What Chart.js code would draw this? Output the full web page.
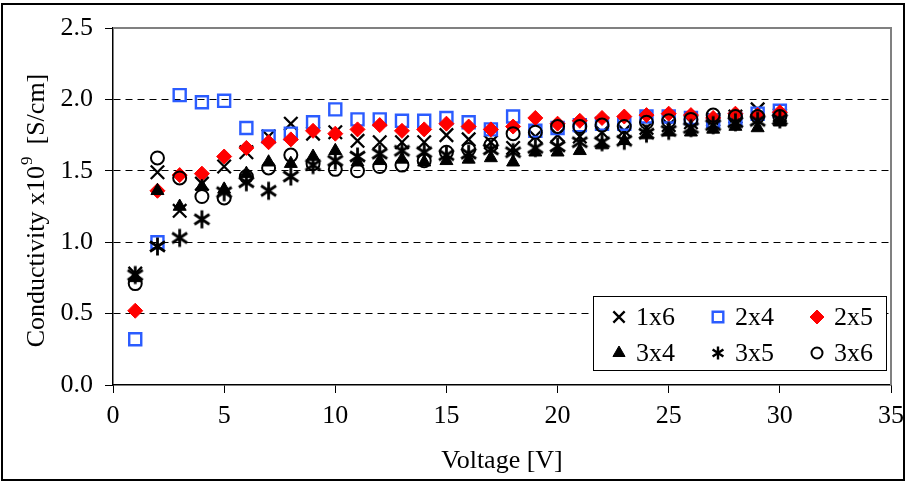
<!DOCTYPE html>
<html>
<head>
<meta charset="utf-8">
<script src="https://cdn.jsdelivr.net/npm/chart.js@4.4.1/dist/chart.umd.min.js"></script>
<style>
  html, body { margin: 0; padding: 0; background: #fff; }
  canvas { display: block; }
</style>
</head>
<body>
<canvas id="c" width="906" height="483"></canvas>
<script>
// Applied voltage [V]
const voltage = [1, 2, 3, 4, 5, 6, 7, 8, 9, 10, 11, 12, 13, 14, 15,
                 16, 17, 18, 19, 20, 21, 22, 23, 24, 25, 26, 27, 28, 29, 30];

// Conductivity x10^9 [S/cm] for each electrode layout
const cond1x6 = [0.78, 1.49, 1.22, 1.41, 1.53, 1.63, 1.74, 1.83, 1.76, 1.77, 1.71, 1.70, 1.70, 1.70, 1.75,
                 1.72, 1.70, 1.66, 1.74, 1.75, 1.74, 1.77, 1.78, 1.80, 1.82, 1.84, 1.86, 1.88, 1.93, 1.89];
const cond2x4 = [0.32, 1.00, 2.03, 1.98, 1.99, 1.80, 1.74, 1.76, 1.84, 1.93, 1.86, 1.86, 1.85, 1.85, 1.87,
                 1.84, 1.79, 1.88, 1.78, 1.80, 1.82, 1.83, 1.83, 1.88, 1.88, 1.87, 1.85, 1.86, 1.90, 1.92];
const cond2x5 = [0.52, 1.36, 1.47, 1.48, 1.60, 1.66, 1.70, 1.72, 1.78, 1.76, 1.79, 1.82, 1.78, 1.79, 1.83,
                 1.81, 1.79, 1.81, 1.87, 1.83, 1.85, 1.87, 1.88, 1.89, 1.90, 1.89, 1.87, 1.90, 1.89, 1.91];
const cond3x4 = [0.75, 1.36, 1.25, 1.39, 1.37, 1.48, 1.56, 1.55, 1.60, 1.64, 1.56, 1.57, 1.58, 1.56, 1.57,
                 1.58, 1.59, 1.56, 1.63, 1.63, 1.64, 1.68, 1.71, 1.75, 1.77, 1.77, 1.79, 1.81, 1.80, 1.84];
const cond3x5 = [0.77, 0.97, 1.03, 1.16, 1.35, 1.42, 1.36, 1.46, 1.54, 1.57, 1.60, 1.62, 1.64, 1.63, 1.61,
                 1.62, 1.65, 1.63, 1.66, 1.67, 1.70, 1.70, 1.71, 1.76, 1.78, 1.80, 1.82, 1.84, 1.85, 1.86];
const cond3x6 = [0.71, 1.59, 1.45, 1.32, 1.31, 1.46, 1.52, 1.61, 1.55, 1.51, 1.50, 1.53, 1.54, 1.57, 1.63,
                 1.65, 1.68, 1.76, 1.77, 1.81, 1.81, 1.82, 1.81, 1.84, 1.85, 1.86, 1.89, 1.88, 1.88, 1.88];

const seriesLabels = ['1x6', '2x4', '2x5', '3x4', '3x5', '3x6'];
const seriesValues = [cond1x6, cond2x4, cond2x5, cond3x4, cond3x5, cond3x6];

const xTicksMin = 0, xTicksMax = 35, xTicksStep = 5;
const yTicksMin = 0, yTicksMax = 2.5, yTicksStep = 0.5;

const xTitle = 'Voltage [V]';
const yTitleMain = 'Conductivity x10';
const yTitleSup = '9';
const yTitleUnit = '  [S/cm]';

const SERIF = '"Liberation Serif", "Times New Roman", serif';

// Six-armed asterisk marker
function makeAsterisk(size, lw) {
  const cv = document.createElement('canvas');
  cv.width = size; cv.height = size;
  const g = cv.getContext('2d');
  const c = size / 2, r = size / 2 - 1.5;
  g.strokeStyle = '#000';
  g.lineWidth = lw;
  g.lineCap = 'butt';
  g.beginPath();
  g.moveTo(c, c - r); g.lineTo(c, c + r);
  const a = Math.PI / 3.2;
  g.moveTo(c - r * Math.sin(a), c - r * Math.cos(a)); g.lineTo(c + r * Math.sin(a), c + r * Math.cos(a));
  g.moveTo(c + r * Math.sin(a), c - r * Math.cos(a)); g.lineTo(c - r * Math.sin(a), c + r * Math.cos(a));
  g.stroke();
  return cv;
}
const asteriskBig = makeAsterisk(21, 2.8);
const asteriskSmall = makeAsterisk(16, 2.4);

const styles = [
  { pointStyle: 'crossRot', radius: 9.5, legendRadius: 8, bg: '#000', border: '#000', bw: 2.3 },
  { pointStyle: 'rect', radius: 8.5, legendRadius: 7.5, bg: 'rgba(0,0,0,0)', border: '#2b5cff', bw: 2.4 },
  { pointStyle: 'rectRot', radius: 7.5, legendRadius: 7, bg: '#ff0000', border: '#ff0000', bw: 1 },
  { pointStyle: 'triangle', radius: 7.5, legendRadius: 7, bg: '#000', border: '#000', bw: 1 },
  { pointStyle: asteriskBig, legendStyle: asteriskSmall, radius: 8, legendRadius: 7, bg: '#000', border: '#000', bw: 1 },
  { pointStyle: 'circle', radius: 6.5, legendRadius: 5.5, bg: 'rgba(0,0,0,0)', border: '#000', bw: 2 }
];

const datasets = seriesLabels.map((label, i) => ({
  label,
  data: voltage.map((v, k) => ({ x: v, y: seriesValues[i][k] })),
  pointStyle: styles[i].pointStyle,
  pointRadius: styles[i].radius,
  pointHoverRadius: styles[i].radius,
  backgroundColor: styles[i].bg,
  borderColor: styles[i].border,
  pointBorderWidth: styles[i].bw,
  showLine: false,
  order: seriesLabels.length - i
}));

const framePlugin = {
  id: 'frame',
  beforeDraw(chart) {
    const ctx = chart.ctx;
    ctx.save();
    ctx.fillStyle = '#fff';
    ctx.fillRect(0, 0, chart.width, chart.height);
    ctx.strokeStyle = '#000';
    ctx.lineWidth = 2;
    ctx.strokeRect(2, 4, chart.width - 4, chart.height - 7);
    ctx.restore();
  },
  beforeDatasetsDraw(chart) {
    const { ctx, chartArea: a } = chart;
    ctx.save();
    ctx.strokeStyle = '#808080';
    ctx.lineWidth = 2;
    ctx.beginPath();
    ctx.moveTo(a.left, a.top);
    ctx.lineTo(a.right, a.top);
    ctx.lineTo(a.right, a.bottom);
    ctx.stroke();
    ctx.restore();
  },
  afterDraw(chart) {
    const { ctx, chartArea: a } = chart;
    // Rotated y-axis title with superscript exponent
    ctx.save();
    ctx.fillStyle = '#000';
    const big = '26px ' + SERIF, small = '17px ' + SERIF;
    ctx.font = big;
    const w1 = ctx.measureText(yTitleMain).width;
    const w3 = ctx.measureText(yTitleUnit).width;
    ctx.font = small;
    const w2 = ctx.measureText(yTitleSup).width;
    const total = w1 + w2 + w3;
    ctx.translate(37, (a.top + a.bottom) / 2 + 4);
    ctx.rotate(-Math.PI / 2);
    ctx.textBaseline = 'middle';
    ctx.textAlign = 'left';
    let x = -total / 2;
    ctx.font = big;
    ctx.fillText(yTitleMain, x, 0);
    x += w1;
    ctx.font = small;
    ctx.fillText(yTitleSup, x + 1, -9);
    x += w2;
    ctx.font = big;
    ctx.fillText(yTitleUnit, x, 0);
    ctx.restore();

    // Legend box inside the plot area (3 columns x 2 rows)
    const boxL = a.right - 298, boxT = a.bottom - 89, boxW = 293, boxH = 74;
    ctx.save();
    ctx.fillStyle = '#fff';
    ctx.fillRect(boxL, boxT, boxW, boxH);
    ctx.strokeStyle = '#000';
    ctx.lineWidth = 1;
    ctx.strokeRect(boxL + 0.5, boxT + 0.5, boxW, boxH);
    ctx.font = '26px ' + SERIF;
    ctx.textBaseline = 'middle';
    ctx.textAlign = 'left';
    ctx.fillStyle = '#000';
    chart.data.datasets.forEach((ds, i) => {
      const col = i % 3, row = Math.floor(i / 3);
      const mx = boxL + 26 + col * 99;
      const my = boxT + 21 + row * 36;
      const st = styles[i];
      ctx.save();
      ctx.fillStyle = st.bg;
      ctx.strokeStyle = st.border;
      ctx.lineWidth = st.bw;
      Chart.helpers.drawPoint(ctx, {
        pointStyle: st.legendStyle || st.pointStyle,
        radius: st.legendRadius,
        rotation: 0,
        borderWidth: st.bw
      }, mx, my);
      ctx.restore();
      ctx.fillText(ds.label, mx + 17, my + 1);
    });
    ctx.restore();
  }
};

new Chart(document.getElementById('c'), {
  type: 'scatter',
  data: { datasets },
  options: {
    responsive: false,
    animation: false,
    devicePixelRatio: 1,
    layout: { padding: { left: 0, top: 28, right: 15, bottom: 0 } },
    plugins: {
      legend: { display: false },
      tooltip: { enabled: false }
    },
    scales: {
      x: {
        type: 'linear',
        min: xTicksMin, max: xTicksMax,
        afterFit(scale) { scale.height = 98; scale.paddingLeft = 0; scale.paddingRight = 0; },
        ticks: {
          stepSize: xTicksStep,
          color: '#000',
          font: { family: SERIF, size: 26 },
          padding: 8,
          maxRotation: 0
        },
        grid: { drawOnChartArea: false, drawTicks: true, tickLength: 8, color: '#000', tickColor: '#000', lineWidth: 1 },
        border: { display: true, color: '#000', width: 1.5 },
        title: {
          display: true,
          text: xTitle,
          color: '#000',
          font: { family: SERIF, size: 26 },
          padding: { top: 0, bottom: 6 }
        }
      },
      y: {
        type: 'linear',
        min: yTicksMin, max: yTicksMax,
        afterFit(scale) { scale.width = 113; scale.paddingTop = 0; scale.paddingBottom = 0; },
        ticks: {
          stepSize: yTicksStep,
          color: '#000',
          font: { family: SERIF, size: 26 },
          padding: 12,
          callback: v => v.toFixed(1)
        },
        grid: {
          drawOnChartArea: true,
          drawTicks: true,
          tickLength: 8,
          lineWidth: 1,
          tickColor: '#000',
          color: c => (c.tick && (c.tick.value === 0 || c.tick.value === 2.5)) ? 'rgba(0,0,0,0)' : '#000'
        },
        border: { display: true, color: '#000', width: 1.5, dash: [7, 5] }
      }
    }
  },
  plugins: [framePlugin]
});
</script>
</body>
</html>
